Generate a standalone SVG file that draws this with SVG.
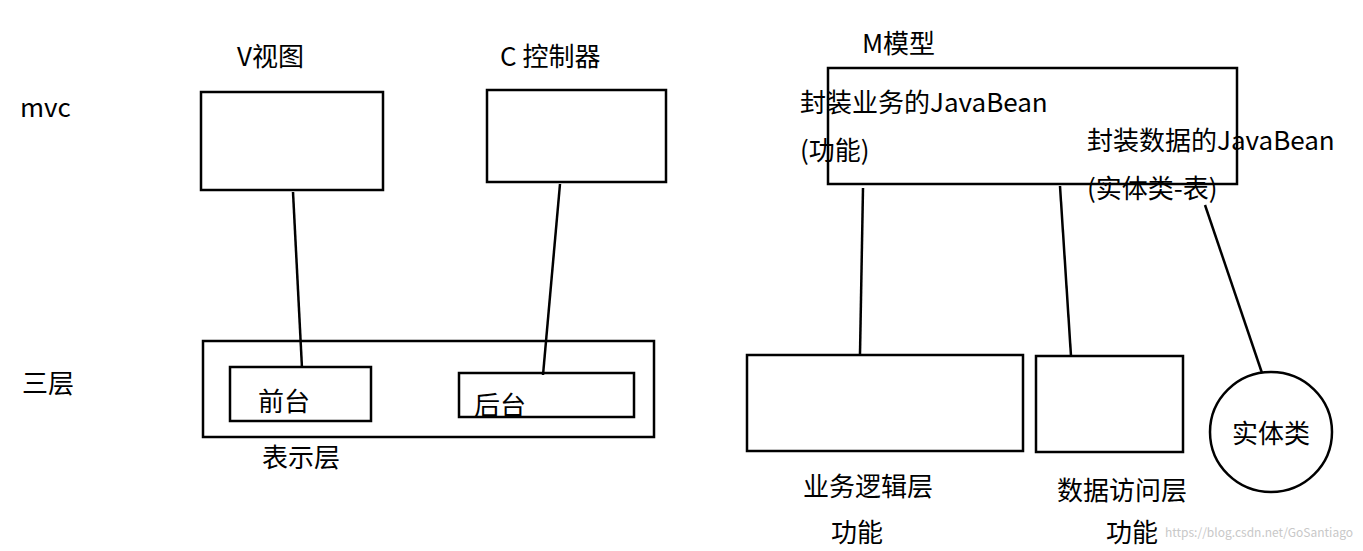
<svg xmlns="http://www.w3.org/2000/svg" width="1363" height="551" viewBox="0 0 1363 551">
<style>
text{font-family:"Noto Sans CJK SC","Liberation Sans",sans-serif;font-size:26px;fill:#000}
.b{fill:none;stroke:#000;stroke-width:2.5}
.w{font-size:12px;fill:#c8c8c8}
</style>
<rect width="1363" height="551" fill="#fff"/>
<g id="labels">
<text x="20" y="117">mvc</text>
<text x="237" y="66">V视图</text>
<text x="500" y="66">C 控制器</text>
<text x="862" y="53">M模型</text>
<text x="22" y="393">三层</text>
</g>
<g id="view"><rect class="b" x="201" y="92" width="182" height="98"/></g>
<g id="controller"><rect class="b" x="487" y="90" width="179" height="92"/></g>
<g id="model"><rect class="b" x="828" y="68" width="409" height="116"/>
<text x="800" y="112">封装业务的JavaBean</text>
<text x="800" y="160">(功能)</text>
<text x="1087" y="150">封装数据的JavaBean</text>
<text x="1087" y="198">(实体类-表)</text></g>
<g id="presentation"><rect class="b" x="203" y="341" width="451" height="96"/>
<text x="262" y="467">表示层</text></g>
<g id="front"><rect class="b" x="230" y="367" width="141" height="54"/><text x="258" y="411">前台</text></g>
<g id="back"><rect class="b" x="459" y="373" width="175" height="44"/><text x="474" y="415">后台</text></g>
<g id="business"><rect class="b" x="747" y="355" width="276" height="96"/>
<text x="803" y="496">业务逻辑层</text><text x="831" y="542">功能</text></g>
<g id="dao"><rect class="b" x="1036" y="356" width="147" height="96"/>
<text x="1057" y="500">数据访问层</text><text x="1106" y="542">功能</text></g>
<g id="entity"><ellipse class="b" cx="1271" cy="432" rx="61" ry="60"/><text x="1232" y="443">实体类</text></g>
<g id="connectors" class="b">
<line x1="293" y1="192" x2="302" y2="368"/>
<line x1="560" y1="184" x2="543" y2="375"/>
<line x1="863" y1="188" x2="860" y2="354"/>
<line x1="1060" y1="186" x2="1071" y2="356"/>
<line x1="1205" y1="205" x2="1262" y2="373"/>
</g>
<text class="w" x="1165" y="537">https://blog.csdn.net/GoSantiago</text>
</svg>
